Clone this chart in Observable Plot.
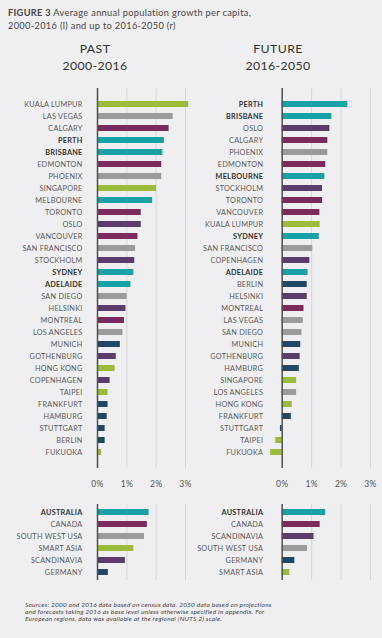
<!DOCTYPE html>
<html><head><meta charset="utf-8">
<script src="https://cdn.jsdelivr.net/npm/d3@7"></script>
<script src="https://cdn.jsdelivr.net/npm/@observablehq/plot@0.6"></script>
<style>
html,body{margin:0;padding:0;background:#efeff1;}
#wrap{position:relative;width:382px;height:638px;background:#efeff1;font-family:Lato,"Open Sans",sans-serif;color:#444;overflow:hidden;}
.abs{position:absolute;}
#title{left:8px;top:5.5px;font-size:9.2px;line-height:13px;color:#444;letter-spacing:0.35px;}
.head{font-size:12.3px;line-height:17px;text-align:center;color:#333;letter-spacing:0.4px;}
#foot{left:25px;top:600.5px;font-size:6.5px;line-height:7px;font-style:italic;color:#444;letter-spacing:0.22px;}
</style></head>
<body>
<div id="wrap">
  <div id="title" class="abs"><b>FIGURE 3</b> Average annual population growth per capita,<br>2000-2016 (l) and up to 2016-2050 (r)</div>
  <div class="abs head" style="left:0;top:39.5px;width:190px;">PAST<br>2000-2016</div>
  <div class="abs head" style="left:186px;top:39.5px;width:184px;">FUTURE<br>2016-2050</div>
  <div id="foot" class="abs">Sources: 2000 and 2016 data based on census data. 2050 data based on projections<br>and forecasts taking 2016 as base level unless otherwise specified in appendix. For<br>European regions, data was available at the regional (NUTS 2) scale.</div>
</div>
<script>
// ---- data ----
const pastCities = ["KUALA LUMPUR","LAS VEGAS","CALGARY","PERTH","BRISBANE","EDMONTON","PHOENIX","SINGAPORE","MELBOURNE","TORONTO","OSLO","VANCOUVER","SAN FRANCISCO","STOCKHOLM","SYDNEY","ADELAIDE","SAN DIEGO","HELSINKI","MONTREAL","LOS ANGELES","MUNICH","GOTHENBURG","HONG KONG","COPENHAGEN","TAIPEI","FRANKFURT","HAMBURG","STUTTGART","BERLIN","FUKUOKA"];
const pastValues = [3.11,2.58,2.44,2.28,2.23,2.19,2.19,2.01,1.88,1.49,1.49,1.38,1.30,1.27,1.24,1.14,1.01,0.97,0.92,0.87,0.78,0.64,0.60,0.43,0.36,0.36,0.33,0.26,0.26,0.14];
const futureCities = ["PERTH","BRISBANE","OSLO","CALGARY","PHOENIX","EDMONTON","MELBOURNE","STOCKHOLM","TORONTO","VANCOUVER","KUALA LUMPUR","SYDNEY","SAN FRANCISCO","COPENHAGEN","ADELAIDE","BERLIN","HELSINKI","MONTREAL","LAS VEGAS","SAN DIEGO","MUNICH","GOTHENBURG","HAMBURG","SINGAPORE","LOS ANGELES","HONG KONG","FRANKFURT","STUTTGART","TAIPEI","FUKUOKA"];
const futureValues = [2.23,1.69,1.62,1.55,1.55,1.48,1.45,1.37,1.37,1.28,1.29,1.26,1.04,0.94,0.88,0.85,0.85,0.74,0.72,0.67,0.63,0.61,0.58,0.49,0.49,0.34,0.31,-0.06,-0.22,-0.39];
const pastRegions = ["AUSTRALIA","CANADA","SOUTH WEST USA","SMART ASIA","SCANDINAVIA","GERMANY"];
const pastRegionValues = [1.76,1.70,1.60,1.24,0.95,0.37];
const futureRegions = ["AUSTRALIA","CANADA","SCANDINAVIA","SOUTH WEST USA","GERMANY","SMART ASIA"];
const futureRegionValues = [1.48,1.29,1.08,0.86,0.43,0.26];

const groupNames = ["Australia","Canada","USA","Asia","Scandinavia","Germany"];
const groupColors = ["#17a3a6","#7c2a5e","#9b9a9e","#9cbb38","#5a3b6c","#1f4866"];
const groupMembers = [
  ["PERTH","BRISBANE","MELBOURNE","SYDNEY","ADELAIDE","AUSTRALIA"],
  ["CALGARY","EDMONTON","TORONTO","VANCOUVER","MONTREAL","CANADA"],
  ["LAS VEGAS","PHOENIX","SAN FRANCISCO","SAN DIEGO","LOS ANGELES","SOUTH WEST USA"],
  ["KUALA LUMPUR","SINGAPORE","HONG KONG","TAIPEI","FUKUOKA","SMART ASIA"],
  ["OSLO","STOCKHOLM","HELSINKI","GOTHENBURG","COPENHAGEN","SCANDINAVIA"],
  ["MUNICH","FRANKFURT","HAMBURG","STUTTGART","BERLIN","GERMANY"]
];
const boldPast = ["PERTH","BRISBANE","SYDNEY","ADELAIDE","AUSTRALIA"];
const boldFuture = ["PERTH","BRISBANE","MELBOURNE","SYDNEY","ADELAIDE","AUSTRALIA"];
const xTicks = [0,1,2,3];

function groupOf(n){ return groupNames[groupMembers.findIndex(m => m.includes(n))]; }

function panel({names, values, bold, left, top, width, zeroX, threeX, labelGap, showAxis}) {
  const data = names.map((n,i) => ({name:n, value:values[i], group:groupOf(n)}));
  const step = 12.67, mt = 8, mb = showAxis ? 30 : 4;
  const height = mt + names.length*step + mb;
  const svg = Plot.plot({
    width, height,
    marginLeft: zeroX - left, marginRight: left + width - threeX,
    marginTop: mt, marginBottom: mb,
    x: {domain:[0,3], axis: null},
    y: {domain: names, axis: null, paddingInner: 0.52, paddingOuter: 0.26},
    color: {domain: groupNames, range: groupColors},
    style: {fontFamily: "Lato, 'Open Sans', sans-serif", fontSize: "7.3px", letterSpacing: "0.25px", color: "#555", background: "transparent", overflow: "visible"},
    marks: [
      Plot.ruleX(xTicks.slice(1), {stroke: "#d6d6da", strokeWidth: 1}),
      showAxis ? Plot.axisX({ticks: xTicks, tickFormat: d => d + "%", tickSize: 0, tickPadding: 12, fontSize: 8.6, label: null, fill: "#555"}) : null,
      Plot.barX(data, {x: "value", y: "name", fill: "group"}),
      Plot.ruleX([0], {stroke: "#505050", strokeWidth: 1.5}),
      Plot.text(data.filter(d => !bold.includes(d.name)), {y: "name", text: "name", frameAnchor: "left", textAnchor: "end", dx: -labelGap, fill: "#5a5a5a"}),
      Plot.text(data.filter(d => bold.includes(d.name)), {y: "name", text: "name", frameAnchor: "left", textAnchor: "end", dx: -labelGap, fill: "#333", fontWeight: "bold"})
    ]
  });
  const div = document.createElement("div");
  div.className = "abs";
  div.style.left = left + "px";
  div.style.top = top + "px";
  div.appendChild(svg);
  document.getElementById("wrap").appendChild(div);
}

panel({names: pastCities, values: pastValues, bold: boldPast, left: 0, top: 80, width: 190, zeroX: 97, threeX: 185, labelGap: 15, showAxis: true});
panel({names: futureCities, values: futureValues, bold: boldFuture, left: 190, top: 80, width: 192, zeroX: 281.7, threeX: 370, labelGap: 19, showAxis: true});
panel({names: pastRegions, values: pastRegionValues, bold: boldPast, left: 0, top: 496, width: 190, zeroX: 97, threeX: 185, labelGap: 15, showAxis: false});
panel({names: futureRegions, values: futureRegionValues, bold: boldFuture, left: 190, top: 496, width: 192, zeroX: 281.7, threeX: 370, labelGap: 19, showAxis: false});
</script>
</body></html>
